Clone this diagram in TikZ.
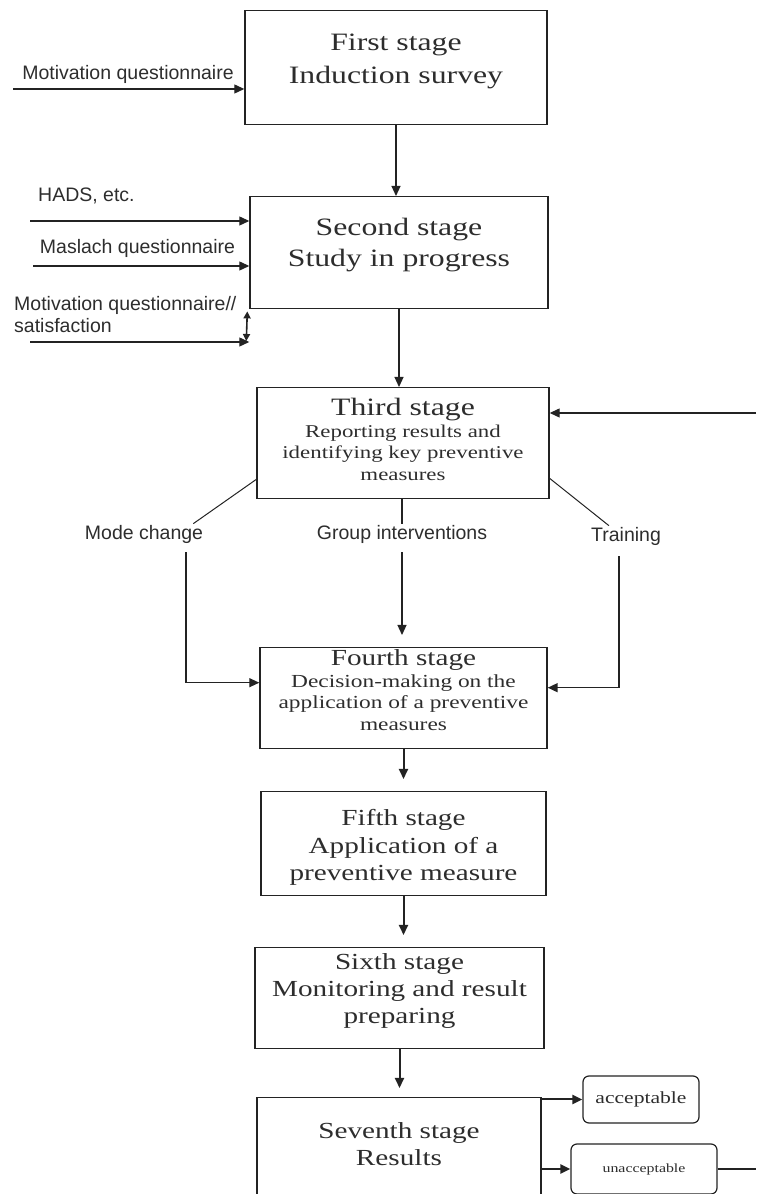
\documentclass[tikz,border=0pt]{standalone}
\usepackage{fontspec}
\setmainfont{Liberation Serif}[FakeStretch=1.27]
\newfontfamily\labelfont{Liberation Sans}
\usetikzlibrary{arrows.meta,calc}
\definecolor{inkgray}{RGB}{35,35,35}
\definecolor{textgray}{RGB}{45,45,45}
\newcommand{\stagetext}[3]{\parbox[c][#1][t]{280pt}{\centering\rule{0pt}{#2}#3}}

\tikzset{
  stagebox/.style={draw=inkgray,line width=1.4pt,inner sep=0pt,anchor=north,text=textgray},
  roundbox/.style={draw=inkgray,line width=1.2pt,rounded corners=6pt,inner sep=0pt,text=textgray},
  inlabel/.style={font=\labelfont\fontsize{19.5}{22}\selectfont,text=textgray,inner sep=2pt},
  flow/.style={draw=inkgray,line width=1.2pt,-{Triangle[length=10pt,width=9pt]}},
  bigflow/.style={flow,line width=2pt},
  plainline/.style={draw=inkgray,line width=1.2pt}
}

\begin{document}
\begin{tikzpicture}[x=1pt,y=1pt]
\path[use as bounding box] (0,0) rectangle (756,1194);
\clip (0,0) rectangle (756,1194);

% stages
\node[stagebox,minimum width=302pt] (s1) at (396,1184)
  {\stagetext{114pt}{40pt}{\fontsize{25}{33}\selectfont First stage\\Induction survey}};
\node[stagebox,minimum width=298pt] (s2) at (399,998)
  {\stagetext{112pt}{39pt}{\fontsize{25}{31}\selectfont Second stage\\Study in progress}};
\node[stagebox,minimum width=292pt] (s3) at (403,807)
  {\stagetext{111pt}{28pt}{{\fontsize{25}{28}\selectfont Third stage}\\
   \fontsize{18}{21.5}\selectfont Reporting results and\\identifying key preventive\\measures}};
\node[stagebox,minimum width=287pt] (s4) at (403.5,547)
  {\stagetext{101pt}{18pt}{{\fontsize{23}{24}\selectfont Fourth stage}\\
   \fontsize{18.4}{21.5}\selectfont Decision-making on the\\application of a preventive\\measures}};
\node[stagebox,minimum width=285pt] (s5) at (403.5,403)
  {\stagetext{104pt}{34pt}{\fontsize{23}{27.5}\selectfont Fifth stage\\Application of a\\preventive measure}};
\node[stagebox,minimum width=289pt] (s6) at (399.5,247)
  {\stagetext{101pt}{22pt}{\fontsize{23}{27}\selectfont Sixth stage\\Monitoring and result\\preparing}};
\node[stagebox,minimum width=284pt] (s7) at (399,97)
  {\stagetext{130pt}{41pt}{\fontsize{23}{27}\selectfont Seventh stage\\Results}};

% results
\node[roundbox,minimum width=116pt,minimum height=47pt] (acc) at (641,94.5)
  {\fontsize{17}{20}\selectfont acceptable};
\node[roundbox,minimum width=146pt,minimum height=50pt] (unacc) at (644,25)
  {\fontsize{12.5}{15}\selectfont unacceptable};

% questionnaires
\node[inlabel,anchor=base] (lq1) at (128,1114) {Motivation questionnaire};
\node[inlabel,anchor=base west] (lq2) at (36,992) {HADS, etc.};
\node[inlabel,anchor=base] (lq3) at (137.5,940) {Maslach questionnaire};
\node[inlabel,anchor=north west,align=left] (lq4) at (12,900.2)
  {Motivation questionnaire//\\satisfaction};
\coordinate (q1) at (13,1105);
\coordinate (q2) at (30,973);
\coordinate (q3) at (33,928);
\coordinate (q4) at (30,852);
\draw[flow] (q1) -- (q1 -| s1.west);
\draw[flow] (q2) -- (q2 -| s2.west);
\draw[flow] (q3) -- (q3 -| s2.west);
\draw[flow] (q4) -- (q4 -| s2.west);
\draw[plainline,line width=1.6pt,{Triangle[length=7pt,width=7pt]}-{Triangle[length=7pt,width=7pt]}]
  ($(q4 -| s2.west)+(-3,1)$) -- ($(s2.south west)+(-2,-2)$);

% preventive measures
\node[inlabel,anchor=base] (mode) at (144,654) {Mode change};
\node[inlabel,anchor=base] (grp) at (402,654) {Group interventions};
\node[inlabel,anchor=base] (train) at (626,652) {Training};
\draw[inkgray,line width=1pt] ([yshift=20pt]s3.south west) -- ([xshift=-12pt]mode.north east);
\draw[inkgray,line width=1pt] ([yshift=21pt]s3.south east) -- ([xshift=20pt]train.north west);
\draw[plainline] (s3.south -| grp.north) -- (grp.north);
\draw[flow,shorten <=6pt,shorten >=12pt] (grp.south) -- (grp.south |- s4.north);
\draw[flow] ([xshift=42pt,yshift=-6pt]mode.south) |- ([yshift=15.5pt]s4.west);
\draw[flow,line width=1.6pt] ([xshift=-7pt,yshift=-8pt]train.south) |- ([yshift=10.5pt]s4.east);
\coordinate (ret) at (756,781);
\draw[flow] (ret) -- (ret -| s3.east);

% main flow
\draw[flow] (s1.south) -- (s1.south |- s2.north);
\draw[flow] (s2.south) -- (s2.south |- s3.north);
\draw[bigflow,shorten >=12pt] (s4.south) -- (s4.south |- s5.north);
\draw[bigflow,shorten >=12pt] (s5.south) -- (s5.south |- s6.north);
\draw[bigflow,shorten >=9pt] (s6.south) -- (s6.south |- s7.north);
\draw[bigflow] (acc.west -| s7.east) -- (acc.west);
\draw[bigflow] (unacc.west -| s7.east) -- (unacc.west);
\draw[plainline] (unacc.east) -- (unacc.east -| ret);
\end{tikzpicture}
\end{document}
